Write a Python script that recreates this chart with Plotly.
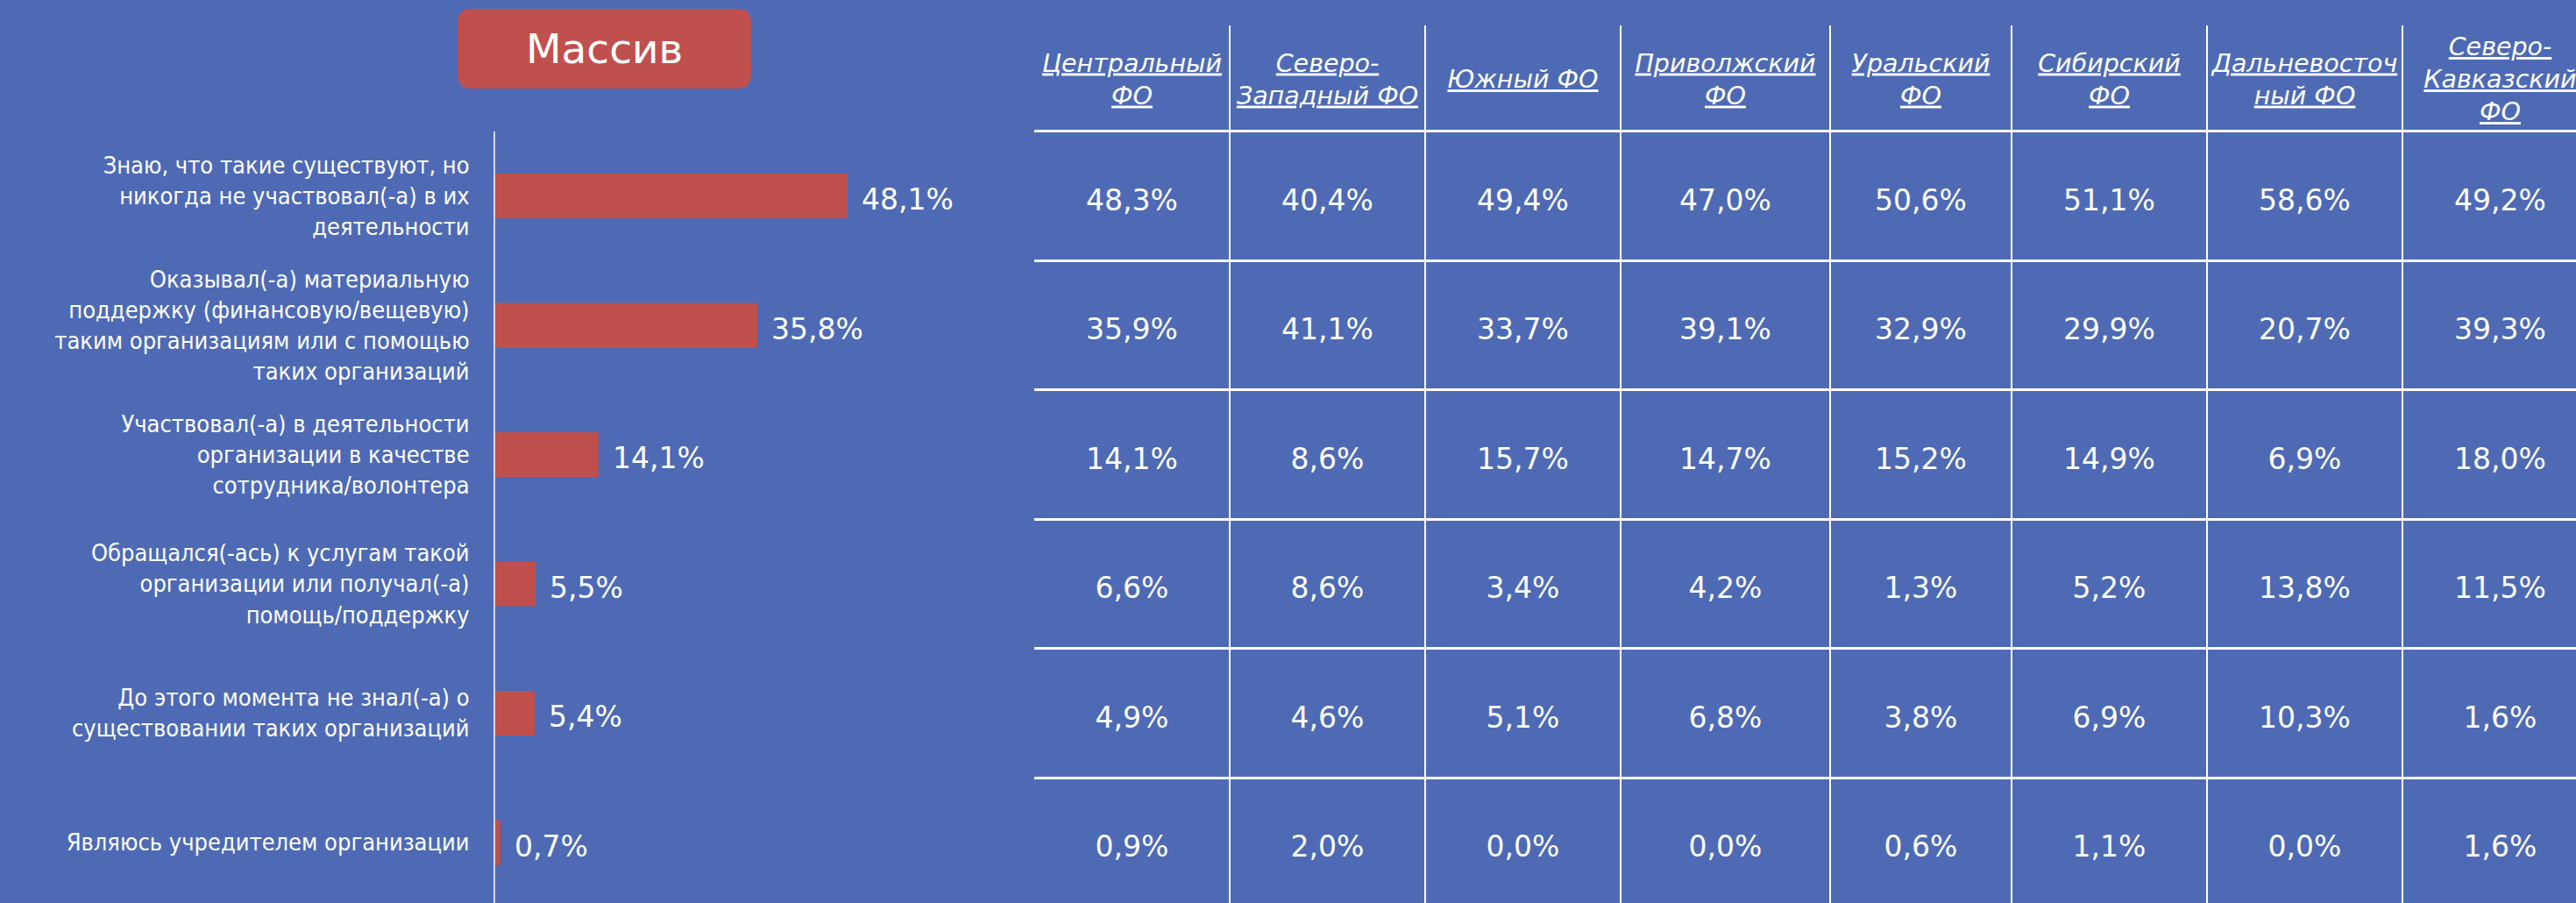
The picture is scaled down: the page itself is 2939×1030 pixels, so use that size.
import plotly.graph_objects as go

# ---------------- data ----------------
categories = [
    "Знаю, что такие существуют, но<br>никогда не участвовал(-а) в их<br>деятельности",
    "Оказывал(-а) материальную<br>поддержку (финансовую/вещевую)<br>таким организациям или с помощью<br>таких организаций",
    "Участвовал(-а) в деятельности<br>организации в качестве<br>сотрудника/волонтера",
    "Обращался(-ась) к услугам такой<br>организации или получал(-а)<br>помощь/поддержку",
    "До этого момента не знал(-а) о<br>существовании таких организаций",
    "Являюсь учредителем организации",
]
massiv = [48.1, 35.8, 14.1, 5.5, 5.4, 0.7]

districts = [
    "Центральный<br>ФО",
    "Северо-<br>Западный ФО",
    "Южный ФО",
    "Приволжский<br>ФО",
    "Уральский<br>ФО",
    "Сибирский<br>ФО",
    "Дальневосточ<br>ный ФО",
    "Северо-<br>Кавказский<br>ФО",
]
central = [48.3, 35.9, 14.1, 6.6, 4.9, 0.9]
northwest = [40.4, 41.1, 8.6, 8.6, 4.6, 2.0]
south = [49.4, 33.7, 15.7, 3.4, 5.1, 0.0]
volga = [47.0, 39.1, 14.7, 4.2, 6.8, 0.0]
ural = [50.6, 32.9, 15.2, 1.3, 3.8, 0.6]
siberia = [51.1, 29.9, 14.9, 5.2, 6.9, 1.1]
fareast = [58.6, 20.7, 6.9, 13.8, 10.3, 0.0]
ncaucasus = [49.2, 39.3, 18.0, 11.5, 1.6, 1.6]
district_values = [central, northwest, south, volga, ural, siberia, fareast, ncaucasus]

title_text = "Массив"

# ---------------- style ----------------
W, H = 2939, 1030
BG = "#4E6AB5"
BAR = "#C0504D"
WHITE = "#FFFFFF"
NUM_FONT = "DejaVu Sans"
LABEL_FONT = "DejaVu Sans Condensed, DejaVu Sans"
COL_WIDTHS = [223, 223, 223, 239, 207, 223, 223, 223]   # table column widths, px
CELL_TEXT_OFFSET = 0.055                                 # rows, visual centring of cell text


def fmt(v):
    return f"{v:.1f}".replace(".", ",") + "%"


edges = [0]
for w_ in COL_WIDTHS:
    edges.append(edges[-1] + w_)
centers = [(edges[k] + edges[k + 1]) / 2 for k in range(len(COL_WIDTHS))]

fig = go.Figure()

# bars
fig.add_trace(go.Bar(
    x=massiv, y=categories, orientation="h",
    marker=dict(color=BAR, line=dict(width=0)),
    width=0.346, xaxis="x", yaxis="y", hoverinfo="skip",
))

for v, c in zip(massiv, categories):
    fig.add_annotation(
        x=v, y=c, xref="x", yref="y", text=fmt(v), showarrow=False,
        xanchor="left", yanchor="middle", xshift=14, yshift=-4,
        font=dict(family=NUM_FONT, size=33, color=WHITE),
    )

# table header
fig.add_trace(go.Scatter(
    x=centers, y=[-0.885] * len(districts), text=districts, mode="text",
    textposition="middle center",
    textfont=dict(family=NUM_FONT, size=28.5, color=WHITE, style="italic", lineposition="under"),
    xaxis="x2", yaxis="y2", hoverinfo="skip",
))

# table cells
cx, cy, ct = [], [], []
for j, col in enumerate(district_values):
    for i, v in enumerate(col):
        cx.append(centers[j])
        cy.append(i + CELL_TEXT_OFFSET)
        ct.append(fmt(v))
fig.add_trace(go.Scatter(
    x=cx, y=cy, text=ct, mode="text", textposition="middle center",
    textfont=dict(family=NUM_FONT, size=33, color=WHITE),
    xaxis="x2", yaxis="y2", hoverinfo="skip",
))

# title box (rounded rectangle)
def px(x):
    return x / W


def py(y):
    return 1 - y / H


x0, x1, y0, y1, r = 522, 857, 10, 101, 16
path = (
    f"M {px(x0 + r)} {py(y0)} L {px(x1 - r)} {py(y0)} Q {px(x1)} {py(y0)} {px(x1)} {py(y0 + r)} "
    f"L {px(x1)} {py(y1 - r)} Q {px(x1)} {py(y1)} {px(x1 - r)} {py(y1)} "
    f"L {px(x0 + r)} {py(y1)} Q {px(x0)} {py(y1)} {px(x0)} {py(y1 - r)} "
    f"L {px(x0)} {py(y0 + r)} Q {px(x0)} {py(y0)} {px(x0 + r)} {py(y0)} Z"
)
fig.add_shape(type="path", path=path, xref="paper", yref="paper",
              fillcolor=BAR, line=dict(width=0), layer="above")
fig.add_annotation(
    x=px((x0 + x1) / 2), y=py((y0 + y1) / 2), xref="paper", yref="paper",
    text=title_text, showarrow=False, xanchor="center", yanchor="middle",
    font=dict(family=NUM_FONT, size=47, color=WHITE),
)

row_px = 147.5
row0_px = 223.5
bar_top = 149.75
y_bottom_val = (H - row0_px) / row_px
fig.update_layout(
    width=W, height=H, margin=dict(l=0, r=0, t=0, b=0),
    paper_bgcolor=BG, plot_bgcolor=BG, showlegend=False,
    xaxis=dict(domain=[565 / W, 1175 / W], range=[0, 73], visible=False, fixedrange=True),
    yaxis=dict(
        domain=[0, 1 - bar_top / H], type="category",
        categoryorder="array", categoryarray=categories,
        range=[y_bottom_val, -0.5], showgrid=False, zeroline=False,
        showline=True, linecolor="#D9D9D9", linewidth=2,
        ticks="", ticklabelstandoff=22, automargin=False,
        tickfont=dict(family=LABEL_FONT, size=27, color=WHITE),
    ),
    xaxis2=dict(
        domain=[1180 / W, 1], range=[0, W - 1180], anchor="y2",
        tickvals=edges[1:-1], showgrid=True, gridcolor=WHITE, gridwidth=2,
        showticklabels=False, ticks="", zeroline=False, showline=False,
    ),
    yaxis2=dict(
        domain=[0, 1 - 29 / H], anchor="x2",
        range=[y_bottom_val, (29 - row0_px) / row_px],
        tickvals=[k - 0.5 for k in range(len(categories))],
        showgrid=True, gridcolor=WHITE, gridwidth=3,
        showticklabels=False, ticks="", zeroline=False, showline=False,
    ),
)

fig.write_html(
    "out.html",
    config={"displayModeBar": False},
    post_script="document.body.style.margin='0';document.body.style.padding='0';"
                "document.body.style.overflow='hidden';",
)
